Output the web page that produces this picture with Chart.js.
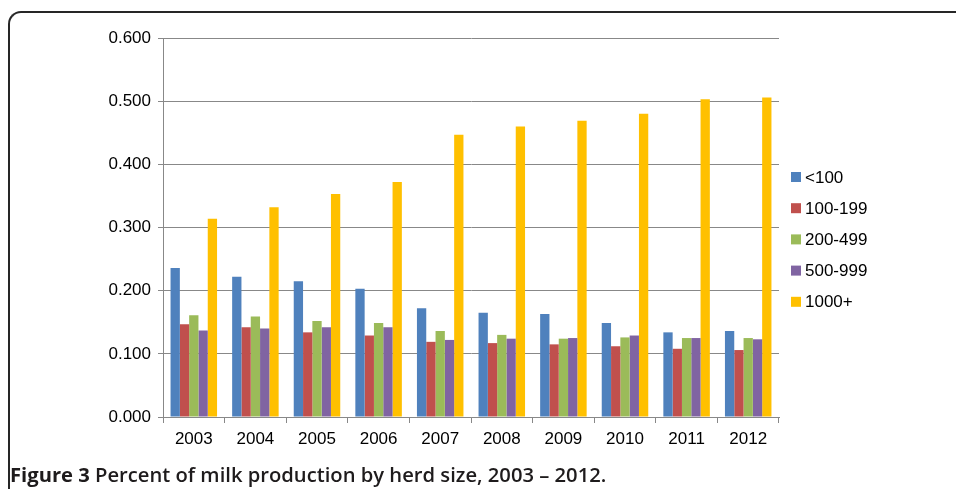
<!DOCTYPE html>
<html>
<head>
<meta charset="utf-8">
<script src="https://cdn.jsdelivr.net/npm/chart.js@4/dist/chart.umd.min.js"></script>
<style>
  html, body { margin: 0; padding: 0; background: #fff; }
  #wrap { position: relative; width: 956px; height: 489px; overflow: hidden; }
  #box { position: absolute; left: 0; top: 0; width: 956px; height: 489px; }
  #frame {
    position: absolute; left: 8px; top: 11px; width: 1000px; height: 520px;
    border-left: 2px solid #262626; border-top: 2px solid #262626;
    border-top-left-radius: 13px;
  }
  #caption {
    position: absolute; left: 10px; top: 460px; line-height: normal;
    font-family: "Open Sans", sans-serif; font-size: 20.2px; font-weight: 600;
    color: #1e1b1c; white-space: nowrap;
  }
  #caption b { font-weight: 700; }
</style>
</head>
<body>
<div id="wrap">
  <div id="frame"></div>
  <div id="box"><canvas id="herdShare"></canvas></div>
  <div id="caption"><b>Figure 3</b> Percent of milk production by herd size, 2003 – 2012.</div>
</div>
<script>
// share of milk production per herd size class
const years = ["2003","2004","2005","2006","2007","2008","2009","2010","2011","2012"];
const herdLabels = ["<100","100-199","200-499","500-999","1000+"];
const herdColors = ["#4F81BD","#C0504D","#9BBB59","#8064A2","#FFC000"];

const under100 = [0.236,0.222,0.215,0.203,0.172,0.165,0.163,0.149,0.134,0.136];
const herd100 = [0.147,0.142,0.134,0.129,0.119,0.117,0.115,0.112,0.108,0.106];
const herd200 = [0.161,0.159,0.152,0.149,0.136,0.130,0.124,0.126,0.125,0.125];
const herd500 = [0.137,0.140,0.142,0.142,0.122,0.124,0.125,0.129,0.125,0.123];
const herd1000 = [0.314,0.332,0.353,0.372,0.447,0.460,0.469,0.480,0.503,0.506];

const yTickLabels = ["0.000","0.100","0.200","0.300","0.400","0.500","0.600"];

const series = [under100, herd100, herd200, herd500, herd1000];
const font = { family: "'Liberation Sans', Arial, sans-serif", size: 17 };

// legend drawn beside the plot, square swatches
const sideLegend = {
    id: "sideLegend",
    afterDraw(chart) {
        const ctx = chart.ctx;
        const x = chart.chartArea.right + 12;
        ctx.save();
        ctx.font = font.size + "px " + font.family;
        ctx.textBaseline = "middle";
        chart.data.datasets.forEach((ds, i) => {
            const y = 177 + i * 31.2;
            ctx.fillStyle = ds.backgroundColor;
            ctx.fillRect(x, y - 5, 10, 10);
            ctx.fillStyle = "#000";
            ctx.fillText(ds.label, x + 14, y + 1);
        });
        ctx.restore();
    }
};

new Chart(document.getElementById("herdShare"), {
    type: "bar",
    data: {
        labels: years,
        datasets: series.map((values, i) => ({
            label: herdLabels[i],
            data: values,
            backgroundColor: herdColors[i],
            borderWidth: 0,
            categoryPercentage: 0.755,
            barPercentage: 1
        }))
    },
    options: {
        responsive: true,
        maintainAspectRatio: false,
        animation: false,
        layout: { padding: { top: 38, right: 177, left: 0, bottom: 0 } },
        plugins: {
            legend: { display: false },
            tooltip: { enabled: false }
        },
        scales: {
            x: {
                grid: {
                    offset: true,
                    drawOnChartArea: false,
                    drawTicks: true,
                    tickLength: 6,
                    color: "#888"
                },
                border: { color: "#888" },
                ticks: { color: "#000", font: font, padding: 6, maxRotation: 0 },
                afterFit(scale) { scale.height = 72; }
            },
            y: {
                min: 0,
                max: 0.6,
                grid: { color: "#888", tickLength: 5 },
                border: { color: "#888" },
                ticks: {
                    stepSize: 0.1,
                    color: "#000",
                    font: font,
                    padding: 7,
                    callback: (v, i) => yTickLabels[i]
                },
                afterFit(scale) { scale.width = 163; }
            }
        }
    },
    plugins: [sideLegend]
});
</script>
</body>
</html>
